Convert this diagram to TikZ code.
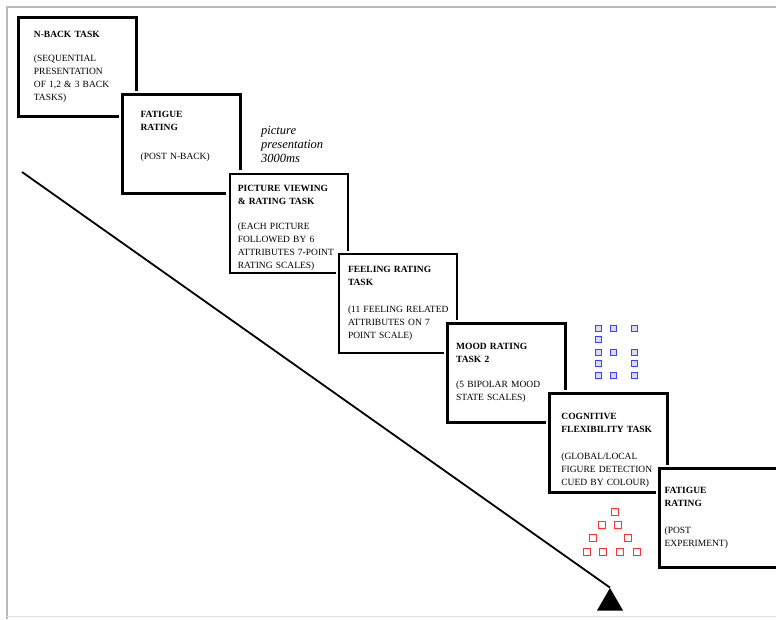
\documentclass[tikz,border=0pt]{standalone}
\usepackage{fontspec}
\setmainfont{Liberation Serif}
\usetikzlibrary{shapes.geometric,positioning}
\tikzset{
  taskbox/.style={
    rectangle, draw=white, double=black, line width=2.2pt,
    double distance=2.6pt, fill=white, minimum width=118pt,
    minimum height=99pt, text width=#1, inner sep=0pt,
    align=left, font=\fontsize{9.5}{13}\selectfont
  },
  padbottom/.style={execute at end node={\par\vspace*{#1}}},
  note/.style={font=\fontsize{12.5}{14}\selectfont\itshape, align=left, inner sep=0pt},
  tri/.style={regular polygon, regular polygon sides=3, fill=black,
    minimum size=30pt, inner sep=0pt},
  timeline/.style={line width=1.8pt},
  bluesq/.style={draw=blue!75, fill=blue!15, line width=0.6pt},
  redsq/.style={draw=red!80, fill=white, line width=0.8pt}
}

\begin{document}
\begin{tikzpicture}[x=1pt,y=-1pt]
  \useasboundingbox (0,0) rectangle (776,619);
  \clip (0,0) rectangle (776,619);
  % outer frame
  \draw[gray!55, line width=1.2pt] (7,619) -- (7,7) -- (776,7);
  \draw[gray!25, line width=1pt] (7,616) -- (776,616);

  % time line
  \coordinate (tstart) at (22,172);
  \node[tri] (tip) at (610,603) {};
  \draw[timeline] (tstart) -- (tip.corner 1);

  % task sequence
  \node[taskbox=87pt, anchor=north west] (nback) at (17.3,16.3)
    {\textbf{N-BACK TASK}\\[11pt]
     (SEQUENTIAL\\PRESENTATION\\OF 1,2 \& 3 BACK\\TASKS)};
  \node[taskbox=82pt, padbottom=16pt, below right=-24pt and -16pt of nback] (fatigue)
    {\textbf{FATIGUE}\\\textbf{RATING}\\[16pt]
     (POST N-BACK)};
  \node[taskbox=102pt, padbottom=-10pt, below right=-22pt and -13pt of fatigue] (picture)
    {\textbf{PICTURE VIEWING}\\\textbf{\& RATING TASK}\\[12pt]
     (EACH PICTURE\\FOLLOWED BY 6\\ATTRIBUTES 7-POINT\\RATING SCALES)};
  \node[taskbox=100pt, below right=-21pt and -11pt of picture] (feeling)
    {\textbf{FEELING RATING}\\\textbf{TASK}\\[14pt]
     \mbox{(11 FEELING RELATED}\\ATTRIBUTES ON 7\\POINT SCALE)};
  \node[taskbox=100pt, below right=-32pt and -12pt of feeling] (mood)
    {\textbf{MOOD RATING}\\\textbf{TASK 2}\\[12pt]
     (5 BIPOLAR MOOD\\STATE SCALES)};
  \node[taskbox=94pt, padbottom=-14pt, below right=-31pt and -18pt of mood] (cognitive)
    {\textbf{COGNITIVE}\\\textbf{FLEXIBILITY TASK}\\[14pt]
     (GLOBAL/LOCAL\\FIGURE DETECTION\\CUED BY COLOUR)};
  \node[taskbox=108pt, below right=-26pt and -10pt of cognitive] (fatiguepost)
    {\textbf{FATIGUE}\\\textbf{RATING}\\[14pt]
     (POST\\EXPERIMENT)};

  \node[note, anchor=north west] (present) at (261,126)
    {picture\\presentation\\3000ms};

  % local/global figures
  \foreach \x/\y in {598/328, 613/328, 634/328, 598/339, 598/352, 613/352,
                     634/352, 598/363, 634/363, 598/375, 613/375, 634/375}
    \draw[bluesq] (\x-2.8,\y-2.8) rectangle ++(5.6,5.6);
  \foreach \x/\y in {615/512, 602/525, 618/525, 593/538, 628/538,
                     587/552, 603/552, 620/552, 637/552}
    \draw[redsq] (\x-3.2,\y-3.2) rectangle ++(6.4,6.4);
\end{tikzpicture}
\end{document}
